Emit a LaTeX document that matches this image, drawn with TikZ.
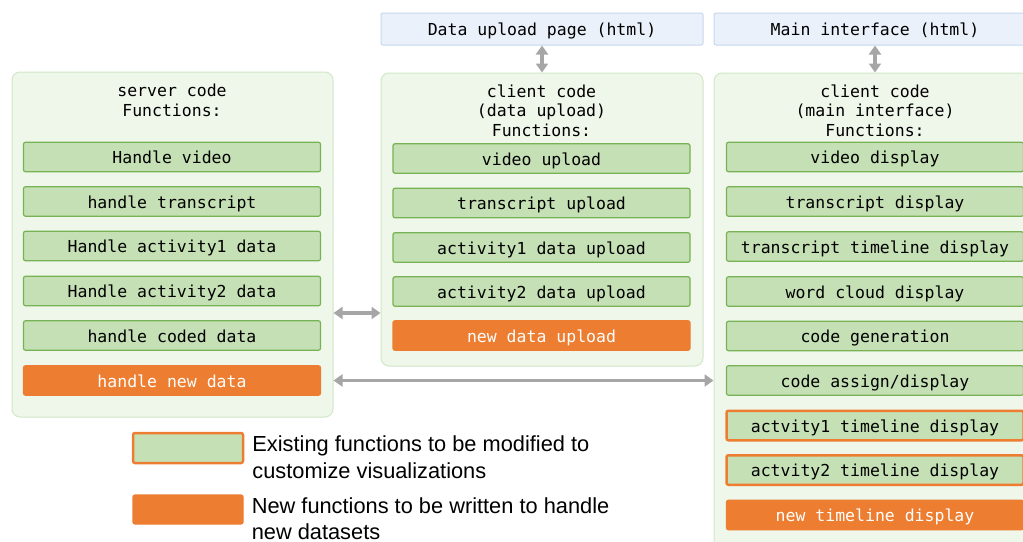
\documentclass[tikz,border=0pt]{standalone}
\usepackage{fontspec}
\setmonofont{DejaVu Sans Mono}
\setsansfont{Liberation Sans}
\usetikzlibrary{positioning,arrows.meta}
\definecolor{boxgreen}{HTML}{C5E0B4}
\definecolor{linegreen}{HTML}{77B255}
\definecolor{palegreen}{HTML}{EFF6EA}
\definecolor{paleline}{HTML}{D2E7C6}
\definecolor{neworange}{HTML}{ED7D31}
\definecolor{paleblue}{HTML}{EAF1FA}
\definecolor{blueline}{HTML}{C6D7EE}
\definecolor{arrowgray}{HTML}{A6A6A6}
\tikzset{
  func/.style={draw=linegreen, fill=boxgreen, line width=1.2pt, rounded corners=2pt, minimum width=297pt, minimum height=29.5pt, inner sep=0pt, text height=15pt, text depth=2pt, font=\ttfamily\fontsize{16.5}{19.5}\selectfont},
  modfunc/.style={func, draw=neworange, line width=2.5pt},
  newfunc/.style={func, draw=neworange, fill=neworange, text=white},
  codebox/.style={draw=paleline, fill=palegreen, line width=1pt, rounded corners=8pt, inner sep=0pt},
  pagebox/.style={draw=blueline, fill=paleblue, line width=1pt, rounded corners=2pt, minimum width=322pt, minimum height=32pt, inner sep=0pt, text height=15pt, text depth=2pt, font=\ttfamily\fontsize{16.5}{19.5}\selectfont},
  heading/.style={align=center, inner sep=0pt, font=\ttfamily\fontsize{16.5}{19.5}\selectfont},
  link/.style={draw=arrowgray, line width=3.2pt, {Triangle[length=9pt,width=12pt]}-{Triangle[length=9pt,width=12pt]}},
  keytext/.style={align=left, inner sep=0pt, font=\sffamily\fontsize{21.8}{26.5}\selectfont}
}
\begin{document}
\begin{tikzpicture}[x=1pt,y=-1pt]
\clip (0,0) rectangle (1023,541);
\node[codebox, minimum width=321pt, minimum height=345pt] (server) at (172.5,244.5) {};
\node[codebox, minimum width=322pt, minimum height=293pt] (upload) at (542,219.5) {};
\node[codebox, minimum width=322pt, minimum height=487pt] (main) at (875,316.5) {};
\node[pagebox] (uppage) at (542,29) {Data upload page (html)};
\node[pagebox] (mainpage) at (875,29) {Main interface (html)};
\node[heading] (serverhead) at (172,100.5) {server code\\Functions:};
\node[heading] (uploadhead) at (541.5,110.5) {client code\\(data upload)\\Functions:};
\node[heading] (mainhead) at (875,110.5) {client code\\(main interface)\\Functions:};
\node[func] (handlevideo) at (172,157) {Handle video};
\node[func] (handletrans) at (172,201.5) {handle transcript};
\node[func] (handleact1) at (172,246) {Handle activity1 data};
\node[func] (handleact2) at (172,291) {Handle activity2 data};
\node[func] (handlecoded) at (172,335.5) {handle coded data};
\node[newfunc] (handlenew) at (172,380.5) {handle new data};
\node[func] (videoup) at (541.5,158.5) {video upload};
\node[func] (transup) at (541.5,203) {transcript upload};
\node[func] (act1up) at (541.5,247.5) {activity1 data upload};
\node[func] (act2up) at (541.5,291.5) {activity2 data upload};
\node[newfunc] (newup) at (541.5,335.5) {new data upload};
\node[func] (videodisp) at (875,157) {video display};
\node[func] (transdisp) at (875,201.5) {transcript display};
\node[func] (transline) at (875,246.5) {transcript timeline display};
\node[func] (wordcloud) at (875,291.5) {word cloud display};
\node[func] (codegen) at (875,336) {code generation};
\node[func] (codeassign) at (875,380.5) {code assign/display};
\node[modfunc] (act1line) at (875,425.5) {actvity1 timeline display};
\node[modfunc] (act2line) at (875,470) {actvity2 timeline display};
\node[newfunc] (newline) at (875,515) {new timeline display};
\draw[link] (uppage.south) -- (upload.north);
\draw[link] (mainpage.south) -- (main.north);
\draw[link] ([yshift=-68.5pt]server.east) -- ([yshift=-68.5pt]server.east -| upload.west);
\draw[link] (server.east |- handlenew) -- (main.west |- handlenew);
\node[modfunc, minimum width=110pt, minimum height=30pt] (keymod) at (188,448) {};
\node[newfunc, minimum width=110pt, minimum height=29pt] (keynew) at (188,509.5) {};
\node[keytext, anchor=west, right=8pt of keymod, yshift=-9pt] (keymodtext) {Existing functions to be modified to\\customize visualizations};
\node[keytext, anchor=west, right=8pt of keynew, yshift=-9pt] (keynewtext) {New functions to be written to handle\\new datasets};
\end{tikzpicture}
\end{document}
